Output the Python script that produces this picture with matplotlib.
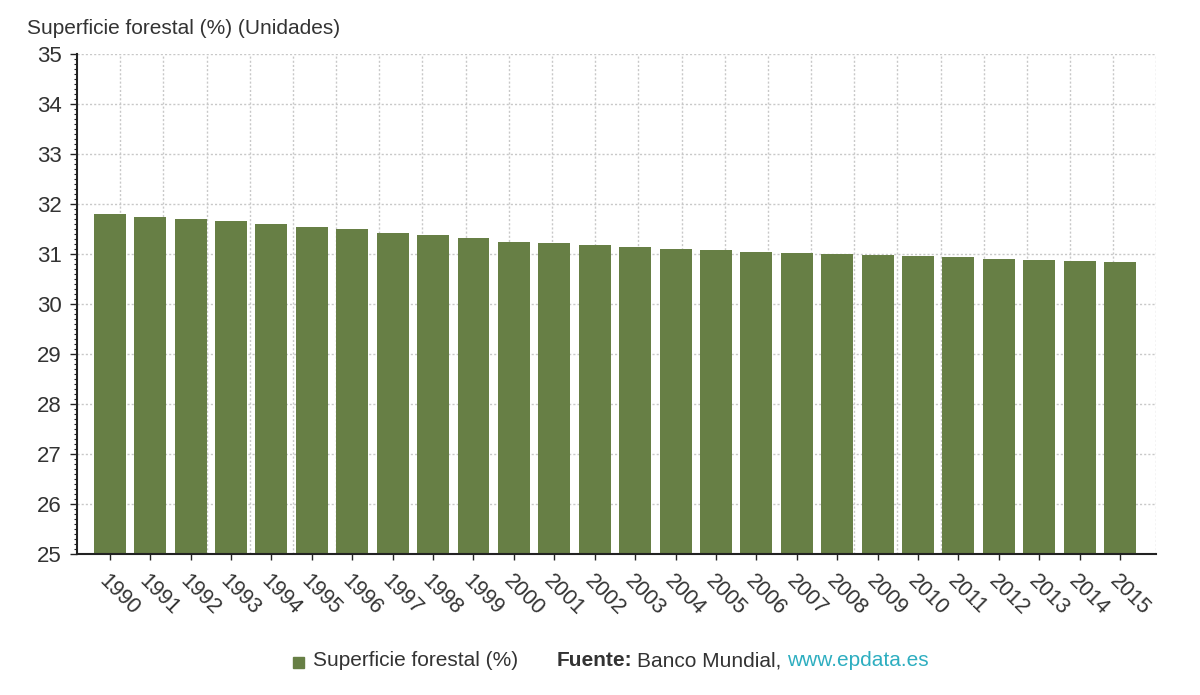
import matplotlib
matplotlib.use("Agg")
import matplotlib.pyplot as plt
import numpy as np
from matplotlib.ticker import MultipleLocator

years = [str(y) for y in range(1990, 2016)]
values = [31.80, 31.73, 31.69, 31.65, 31.59, 31.54, 31.49, 31.42, 31.37, 31.31,
          31.24, 31.21, 31.17, 31.14, 31.10, 31.07, 31.04, 31.02, 30.99, 30.97,
          30.95, 30.93, 30.90, 30.87, 30.85, 30.83]
series_name = "Superficie forestal (%)"
y_title = "Superficie forestal (%) (Unidades)"

plt.rcParams['font.family'] = ['Liberation Sans', 'DejaVu Sans']
BAR = '#677f45'
TXT = '#333333'

fig = plt.figure(figsize=(12, 6.95), dpi=100)
ax = fig.add_axes([0.0642, 0.2029, 0.8995, 0.7194])

x = np.arange(len(years))
ax.bar(x, values, width=0.79, color=BAR, zorder=3)

xlim = (-0.81, 25.9)
ax.set_xlim(*xlim)
ax.set_ylim(25, 35)

# grid
for yv in range(26, 36):
    ax.axhline(yv, color='#c8c8c8', lw=1, ls=(0, (1.5, 1.5)), zorder=1)
for xv in np.linspace(xlim[0], xlim[1], 26)[1:]:
    ax.axvline(xv, color='#c8c8c8', lw=1, ls=(0, (1.5, 1.5)), zorder=1)

for s in ['top', 'right']:
    ax.spines[s].set_visible(False)
for s in ['left', 'bottom']:
    ax.spines[s].set_color('#222222')
    ax.spines[s].set_linewidth(1.5)
    ax.spines[s].set_zorder(4)

ax.yaxis.set_major_locator(MultipleLocator(1))
ax.yaxis.set_minor_locator(MultipleLocator(0.1))
ax.tick_params(axis='y', which='major', length=5, width=1, color='#222222',
               labelsize=16, labelcolor=TXT, pad=6)
ax.tick_params(axis='y', which='minor', length=2.5, width=0.8, color='#222222')

ax.set_xticks(x)
ax.set_xticklabels(years, rotation=-45, ha='left', va='top', rotation_mode='anchor')
ax.tick_params(axis='x', which='major', length=4, width=1, color='#222222',
               labelsize=15.5, labelcolor=TXT, pad=8)

fig.text(27/1200, 1 - 29/695, y_title, fontsize=15, color=TXT, va='center', ha='left')

# legend / footer
fig.patches.append(plt.Rectangle((293/1200, 1 - 668/695), 11/1200, 11/695,
                                 transform=fig.transFigure, color=BAR, figure=fig))
fig.text(313/1200, 1 - 661/695, series_name, fontsize=15, color=TXT, va='center', ha='left')
t1 = fig.text(557/1200, 1 - 661/695, "Fuente:", fontsize=15, color=TXT,
              va='center', ha='left', fontweight='bold')
fig.canvas.draw()
r = fig.canvas.get_renderer()
bb = t1.get_window_extent(r)
t2 = fig.text(bb.x1 / 1200 + 4/1200, 1 - 661/695, "Banco Mundial, ", fontsize=15,
              color=TXT, va='center', ha='left')
bb2 = t2.get_window_extent(r)
fig.text(bb2.x1 / 1200, 1 - 661/695, "www.epdata.es", fontsize=15,
         color='#2eaec0', va='center', ha='left')

fig.savefig("out.png", dpi=100)
